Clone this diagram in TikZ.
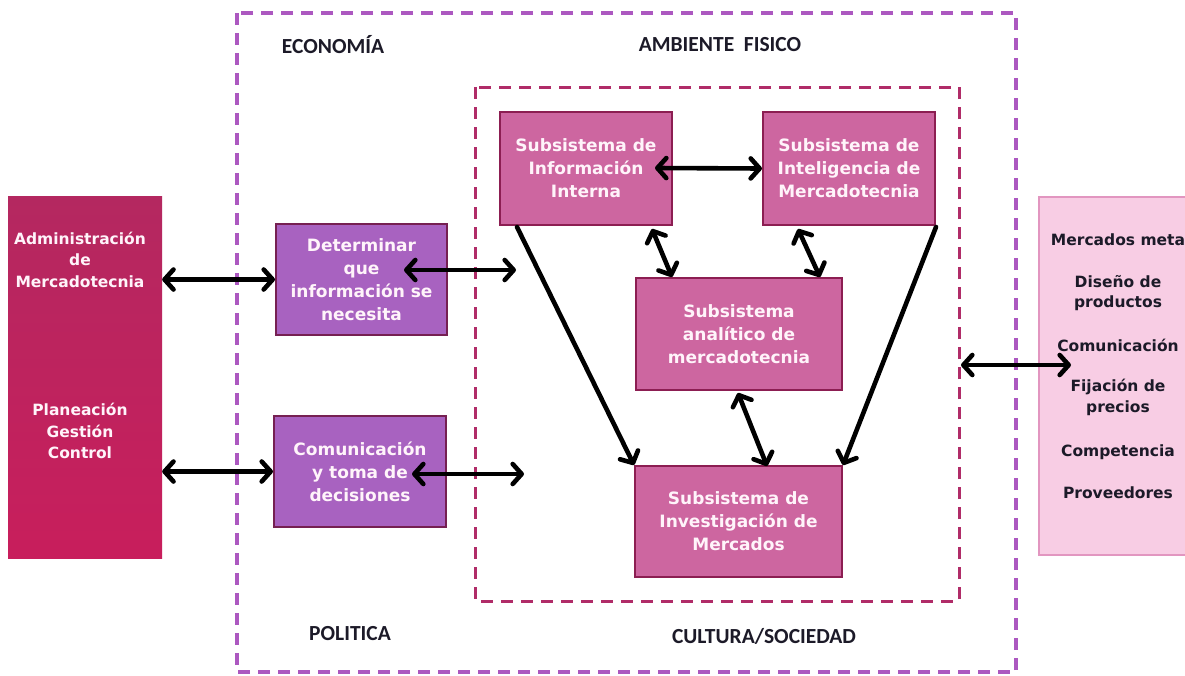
\documentclass[tikz,border=0pt]{standalone}
\usepackage{fontspec}
\setmainfont{DejaVu Sans}
\newfontfamily\lblfont{Carlito}
\usetikzlibrary{arrows.meta,calc}
\definecolor{outerc}{RGB}{172,88,192}
\definecolor{innerc}{RGB}{176,44,104}
\definecolor{purfill}{RGB}{168,98,192}
\definecolor{purdraw}{RGB}{118,32,82}
\definecolor{subfill}{RGB}{205,102,160}
\definecolor{subdraw}{RGB}{140,30,82}
\definecolor{lefttop}{RGB}{180,40,96}
\definecolor{leftbot}{RGB}{200,30,92}
\definecolor{rightfill}{RGB}{248,205,228}
\definecolor{rightdraw}{RGB}{226,150,192}
\definecolor{darktxt}{RGB}{28,26,40}
\definecolor{boxtxt}{RGB}{255,244,250}
\tikzset{
  tip/.tip={Straight Barb[length=9pt,width=20pt,round]},
  darr/.style={line width=4.6pt, black, line cap=round, tip-tip},
  sarr/.style={line width=4.6pt, black, line cap=round, -tip},
  purbox/.style={draw=purdraw, line width=2pt, fill=purfill, text=boxtxt,
    font=\bfseries\fontsize{17}{23}\selectfont, align=center, inner sep=0pt},
  subbox/.style={draw=subdraw, line width=2pt, fill=subfill, text=boxtxt,
    font=\bfseries\fontsize{17}{23}\selectfont, align=center, inner sep=0pt},
  lefttxt/.style={text=boxtxt, font=\bfseries\fontsize{15.5}{21.5}\selectfont, align=center, inner sep=0pt},
  righttxt/.style={text=darktxt, font=\bfseries\fontsize{15.5}{20.5}\selectfont, align=center, inner sep=0pt},
  envlbl/.style={text=darktxt, font=\lblfont\bfseries\fontsize{21.5}{24}\selectfont, inner sep=0pt},
  frameout/.style={draw=outerc, line width=3.2pt, dash pattern=on 12pt off 8pt},
  framein/.style={draw=innerc, line width=3pt, dash pattern=on 12pt off 8pt}
}
\begin{document}
\begin{tikzpicture}[x=1pt,y=-1pt]
\useasboundingbox[fill=white] (0,0) rectangle (1185,675);
% frames
\draw[frameout] (237,13) rectangle (1016,672);
\draw[framein] (475,87) rectangle (959,601);
% environment labels
\node[envlbl] (eco) at (333,45) {ECONOMÍA};
\node[envlbl] (amb) at (720,45) {AMBIENTE\ \ FISICO};
\node[envlbl] (pol) at (350,634) {POLITICA};
\node[envlbl] (cul) at (764,636) {CULTURA/SOCIEDAD};
% left box
\node[minimum width=154pt, minimum height=362pt, inner sep=0pt,
      top color=lefttop, bottom color=leftbot] (left) at (85,377) {};
\node[lefttxt] (lt1) at (80,259.5) {Administración\\de\\Mercadotecnia};
\node[lefttxt] (lt2) at (80,431) {Planeación\\Gestión\\Control};
% right box
\node[draw=rightdraw, line width=1.4pt, fill=rightfill, minimum width=161pt,
      minimum height=358pt, inner sep=0pt] (right) at (1119.5,376) {};
\node[righttxt] (rt1) at (1118,240) {Mercados meta};
\node[righttxt] (rt2) at (1118,293) {Diseño de\\productos};
\node[righttxt] (rt3) at (1118,345) {Comunicación};
\node[righttxt] (rt4) at (1118,397.5) {Fijación de\\precios};
\node[righttxt] (rt5) at (1118,452) {Competencia};
\node[righttxt] (rt6) at (1118,493) {Proveedores};
% purple boxes
\node[purbox, minimum width=171pt, minimum height=111pt] (det) at (361.5,279.5)
  {Determinar\\que\\información se\\necesita};
\node[purbox, minimum width=172pt, minimum height=111pt] (com) at (360,471.5)
  {Comunicación\\y toma de\\decisiones};
% subsystems
\node[subbox, minimum width=172pt, minimum height=113pt] (sii) at (586,168.5)
  {Subsistema de\\Información\\Interna};
\node[subbox, minimum width=172pt, minimum height=113pt] (sim) at (849,168.5)
  {Subsistema de\\Inteligencia de\\Mercadotecnia};
\node[subbox, minimum width=206pt, minimum height=112pt] (ana) at (739,334)
  {Subsistema\\analítico de\\mercadotecnia};
\node[subbox, minimum width=207pt, minimum height=111pt] (inv) at (738.5,521.5)
  {Subsistema de\\Investigación de\\Mercados};
% free ends
\coordinate (detin) at (404,270);
\coordinate (detout) at (516,270);
\coordinate (comin) at (412,474);
\coordinate (comout) at (524,474);
\coordinate (siiR) at (655,168);
\coordinate (siiB) at (652,229);
\coordinate (simB) at (798,229);
\coordinate (siiL) at (517,227);
\coordinate (simR) at (936,227);
\coordinate (anaB) at (738,393);
\coordinate (invT) at (767,466);
\coordinate (envL) at (961,365);
\coordinate (envR) at (1071,365);
% connectors
\draw[darr] (left.east |- det.west) -- (det.west);
\draw[darr] (left.east |- com.west) -- (com.west);
\draw[darr] (detin) -- (detout);
\draw[darr] (comin) -- (comout);
\draw[darr] (siiR) -- (sim.west);
\draw[darr] (siiB) -- ($(ana.north west)+(37,0)$);
\draw[darr] (simB) -- ($(ana.north east)+(-23,0)$);
\draw[sarr] (siiL) -- (inv.north west);
\draw[sarr] (simR) -- (inv.north east);
\draw[darr] (anaB) -- (invT);
\draw[darr] (envL) -- (envR);
\end{tikzpicture}
\end{document}
